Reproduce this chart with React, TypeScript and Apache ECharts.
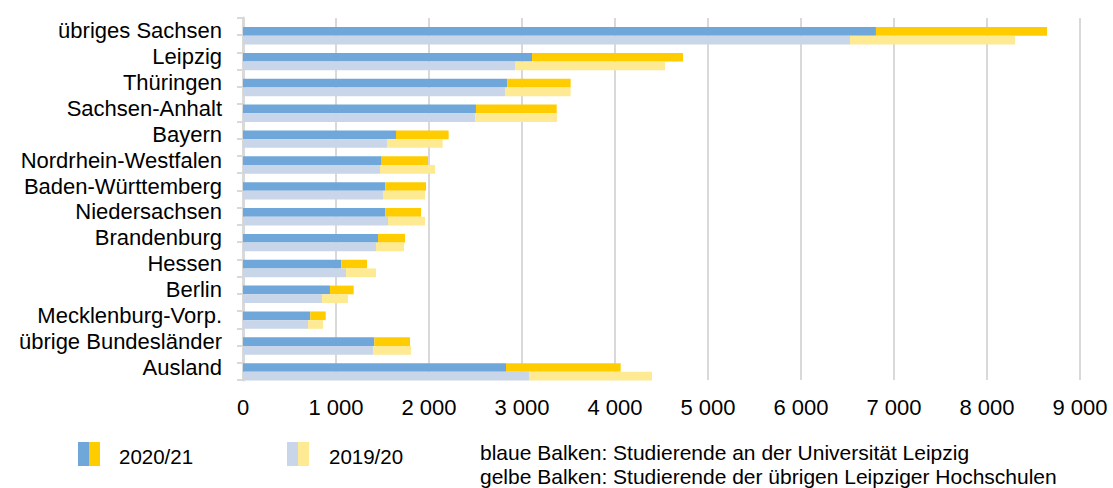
import React, { useEffect, useRef } from "react";
import * as echarts from "echarts";

const categories = [
  "übriges Sachsen",
  "Leipzig",
  "Thüringen",
  "Sachsen-Anhalt",
  "Bayern",
  "Nordrhein-Westfalen",
  "Baden-Württemberg",
  "Niedersachsen",
  "Brandenburg",
  "Hessen",
  "Berlin",
  "Mecklenburg-Vorp.",
  "übrige Bundesländer",
  "Ausland",
];

// 2020/21
const uni2021 = [6806, 3108, 2842, 2505, 1645, 1491, 1530, 1530, 1452, 1057, 935, 724, 1412, 2828];
const other2021 = [1839, 1623, 681, 868, 566, 498, 438, 384, 290, 276, 255, 165, 384, 1233];
// 2019/20
const uni1920 = [6527, 2925, 2817, 2495, 1548, 1473, 1505, 1559, 1430, 1108, 849, 699, 1398, 3075];
const other1920 = [1774, 1613, 706, 881, 599, 592, 452, 398, 301, 322, 280, 161, 408, 1323];

const xTicks = [0, 1000, 2000, 3000, 4000, 5000, 6000, 7000, 8000, 9000];
const tickSlots = Array.from({ length: 21 }, (_, i) => String(i));

const legendLabels = ["2020/21", "2019/20"];
const notes = [
  "blaue Balken: Studierende an der Universität Leipzig",
  "gelbe Balken: Studierende der übrigen Leipziger Hochschulen",
];

const C_BLUE = "#6fa7da";
const C_YELLOW = "#ffcc00";
const C_LBLUE = "#c9d5e8";
const C_LYELLOW = "#ffea94";
const FONT = "Liberation Sans, Arial, sans-serif";

const fmt = (v: number) => (v === 0 ? "0" : `${Math.round(v / 1000)} 000`);

export default function App() {
  const ref = useRef<HTMLDivElement>(null);
  useEffect(() => {
    if (!ref.current) return;
    const chart = echarts.init(ref.current, undefined, { renderer: "svg" });
    const barW = 8.7;
    chart.setOption({
      animation: false,
      backgroundColor: "#ffffff",
      textStyle: { fontFamily: FONT },
      grid: [
        { left: 243, right: 33, top: 18, height: 362 },
        { left: 243, right: 33, top: 22.8, height: 362 },
      ],
      xAxis: [
        {
          type: "value",
          gridIndex: 0,
          min: xTicks[0],
          max: xTicks[xTicks.length - 1],
          interval: 1000,
          axisLine: { show: false },
          axisTick: { show: false },
          splitLine: { show: true, lineStyle: { color: "#d9d9d9", width: 2 } },
          axisLabel: {
            fontSize: 22,
            color: "#000",
            margin: 16,
            fontFamily: FONT,
            formatter: (v: number) => fmt(v),
          },
        },
        {
          type: "value",
          gridIndex: 1,
          min: xTicks[0],
          max: xTicks[xTicks.length - 1],
          show: false,
        },
      ],
      yAxis: [
        {
          type: "category",
          gridIndex: 0,
          data: tickSlots,
          position: "left",
          axisLine: { show: true, lineStyle: { color: "#d9d9d9", width: 3 } },
          axisTick: { show: true, interval: 0, length: 6, lineStyle: { color: "#d9d9d9", width: 2 } },
          axisLabel: { show: false },
          splitLine: { show: false },
        },
        {
          type: "category",
          gridIndex: 0,
          data: categories,
          inverse: true,
          position: "left",
          offset: 0,
          axisLine: { show: false },
          axisTick: { show: false },
          axisLabel: { interval: 0, fontSize: 22, color: "#000", margin: 21, fontFamily: FONT },
          splitLine: { show: false },
        },
        {
          type: "category",
          gridIndex: 1,
          data: categories,
          inverse: true,
          show: false,
        },
      ],
      series: [
        {
          name: "Uni 2020/21",
          type: "bar",
          xAxisIndex: 1,
          yAxisIndex: 2,
          stack: "y2021",
          barWidth: barW,
          barGap: "0%",
          itemStyle: { color: C_BLUE },
          data: uni2021,
        },
        {
          name: "Andere 2020/21",
          type: "bar",
          xAxisIndex: 1,
          yAxisIndex: 2,
          stack: "y2021",
          barWidth: barW,
          barGap: "0%",
          itemStyle: { color: C_YELLOW },
          data: other2021,
        },
        {
          name: "Uni 2019/20",
          type: "bar",
          xAxisIndex: 1,
          yAxisIndex: 2,
          stack: "y1920",
          barWidth: barW,
          barGap: "0%",
          itemStyle: { color: C_LBLUE },
          data: uni1920,
        },
        {
          name: "Andere 2019/20",
          type: "bar",
          xAxisIndex: 1,
          yAxisIndex: 2,
          stack: "y1920",
          barWidth: barW,
          barGap: "0%",
          itemStyle: { color: C_LYELLOW },
          data: other1920,
        },
      ],
      graphic: [
        { type: "rect", left: 78, top: 442, shape: { width: 11, height: 24 }, style: { fill: C_BLUE } },
        { type: "rect", left: 89, top: 442, shape: { width: 11, height: 24 }, style: { fill: C_YELLOW } },
        {
          type: "text",
          left: 119,
          top: 446,
          style: { text: legendLabels[0], fontSize: 20.5, fill: "#000", fontFamily: FONT },
        },
        { type: "rect", left: 287, top: 442, shape: { width: 11, height: 24 }, style: { fill: C_LBLUE } },
        { type: "rect", left: 298, top: 442, shape: { width: 11, height: 24 }, style: { fill: C_LYELLOW } },
        {
          type: "text",
          left: 329,
          top: 446,
          style: { text: legendLabels[1], fontSize: 20.5, fill: "#000", fontFamily: FONT },
        },
        {
          type: "text",
          left: 480,
          top: 442,
          style: { text: notes[0], fontSize: 21, lineHeight: 21, fill: "#000", fontFamily: FONT },
        },
        {
          type: "text",
          left: 480,
          top: 466,
          style: { text: notes[1], fontSize: 21, lineHeight: 21, fill: "#000", fontFamily: FONT },
        },
      ],
    });
    return () => chart.dispose();
  }, []);
  return (
    <div
      ref={ref}
      style={{ position: "fixed", left: 0, top: 0, width: 1113, height: 488 }}
    />
  );
}
